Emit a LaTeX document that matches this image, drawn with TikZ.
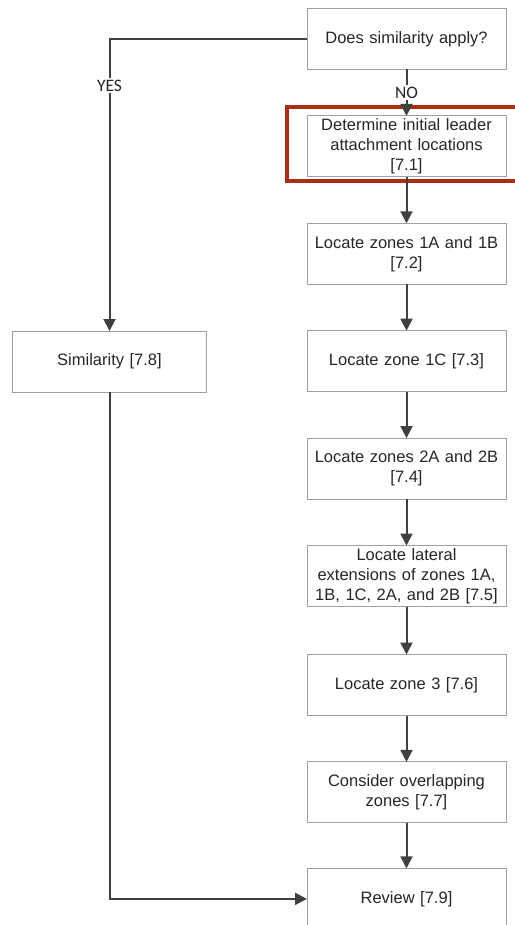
\documentclass[tikz,border=0pt]{standalone}
\usepackage{fontspec}
\setmainfont{Liberation Sans}
\newfontfamily\tagfont{Carlito}
\usetikzlibrary{arrows.meta,positioning}
\definecolor{markred}{RGB}{170,45,20}

\begin{document}
\begin{tikzpicture}[x=1pt, y=-1pt,
  node distance=46.4pt,
  stepbox/.style={rectangle, draw=gray!75, line width=1pt, outer sep=0pt, minimum height=61pt, minimum width=199pt, text width=192pt, align=center, inner sep=1pt, font=\fontsize{16.5}{20}\selectfont, text=black!85},
  arrow/.style={-{Triangle[width=12pt,length=12pt]}, draw=black!75, line width=2pt},
  tag/.style={fill=white, font=\tagfont\fontsize{17.5}{20}\selectfont, inner sep=1.5pt, text=black!85}
]
\useasboundingbox (0,0) rectangle (514,925);

% Main column (right side)
\node[stepbox] (ask) at (406.5,39) {Does similarity apply?};
\node[stepbox, below=of ask] (attach) {Determine initial leader\\attachment locations\\{[7.1]}};
\node[stepbox, below=of attach] (zone1ab) {Locate zones 1A and 1B\\{[7.2]}};
\node[stepbox, below=of zone1ab] (zone1c) {Locate zone 1C [7.3]};
\node[stepbox, below=of zone1c] (zone2ab) {Locate zones 2A and 2B\\{[7.4]}};
\node[stepbox, below=of zone2ab] (lateral) {Locate lateral\\extensions of zones 1A,\\1B, 1C, 2A, and 2B [7.5]};
\node[stepbox, below=48pt of lateral] (zone3) {Locate zone 3 [7.6]};
\node[stepbox, below=of zone3] (overlap) {Consider overlapping\\zones [7.7]};
\node[stepbox, below=45.5pt of overlap] (review) {Review [7.9]};

% Similarity branch (left side)
\node[stepbox, minimum width=193pt] (simil) at (109.5,361.5) {Similarity [7.8]};

% Highlight round step 7.1
\draw[markred, line width=4pt] ([xshift=-20pt,yshift=9pt]attach.north west) rectangle ([xshift=40pt,yshift=-4pt]attach.south east);

% Decision arrows
\draw[arrow] (ask.west) -| node[tag, pos=0.58] {YES} (simil.north);
\draw[arrow] (ask) -- node[tag] {NO} (attach);

% Main column arrows
\draw[arrow] (attach) -- (zone1ab);
\draw[arrow] (zone1ab) -- (zone1c);
\draw[arrow] (zone1c) -- (zone2ab);
\draw[arrow] (zone2ab) -- (lateral);
\draw[arrow] (lateral) -- (zone3);
\draw[arrow] (zone3) -- (overlap);
\draw[arrow] (overlap) -- (review);

% Similarity to review
\draw[arrow] (simil.south) |- (review.west);

\end{tikzpicture}
\end{document}
